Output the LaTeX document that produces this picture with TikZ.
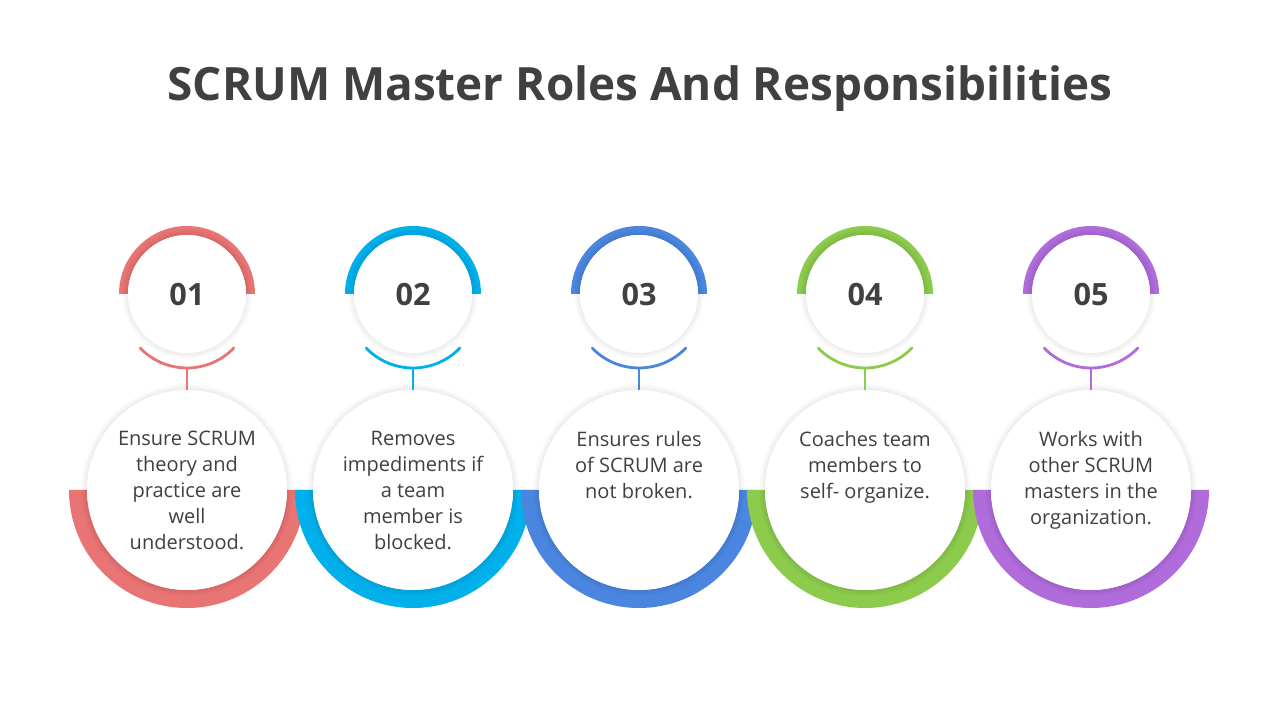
\documentclass[tikz,border=0pt]{standalone}
\usepackage{fontspec}
\setmainfont{Open Sans}
\definecolor{txt}{HTML}{404040}
\definecolor{cA}{HTML}{E87473}
\definecolor{cB}{HTML}{00B0EA}
\definecolor{cC}{HTML}{4A86E0}
\definecolor{cD}{HTML}{8CCB4C}
\definecolor{cE}{HTML}{B06CDB}
\tikzset{
  numtxt/.style={font=\fontsize{23}{26}\selectfont\bfseries, text=txt, inner sep=0},
  bodytxt/.style={font=\fontsize{15}{19.5}\selectfont, text=txt, align=center, inner sep=0, anchor=north},
  smallcirc/.style={circle, fill=white, minimum size=118*0.75pt, inner sep=0},
  bigcirc/.style={circle, fill=white, minimum size=200*0.75pt, inner sep=0},
  link/.style={line width=2.8pt*0.75, line cap=round}
}
\begin{document}
\begin{tikzpicture}[x=0.75pt,y=0.75pt]
\useasboundingbox (0,0) rectangle (1280,720);
\fill[white] (0,0) rectangle (1280,720);
\node[font=\fontsize{34.4}{40}\selectfont\bfseries, text=txt] (title) at (640,631) {SCRUM Master Roles And Responsibilities};
\foreach \i/\X/\col/\num/\body in {
  1/187/cA/01/{Ensure SCRUM\\theory and\\practice are\\well\\understood.},
  2/413/cB/02/{Removes\\impediments if\\a team\\member is\\blocked.},
  3/639/cC/03/{Ensures rules\\of SCRUM are\\not broken.},
  4/865/cD/04/{Coaches team\\members to\\self- organize.},
  5/1091/cE/05/{Works with\\other SCRUM\\masters in the\\organization.}}{
  % bottom ring
  \fill[\col] (\X-118,230) arc (180:360:118) -- (\X+100,230) arc (360:180:100) -- cycle;
  % top ring
  \fill[\col] (\X-68,426) arc (180:0:68) -- (\X+59,426) arc (0:180:59) -- cycle;
  % shadows
  \foreach \k in {1,...,6}{
    \fill[black,opacity=0.012] (\X,230) circle (100+\k);
    \fill[black,opacity=0.012] (\X,426) circle (59+\k);
  }
  \node[bigcirc] (c\i) at (\X,230) {};
  \node[smallcirc] (n\i) at (\X,426) {};
  \node[numtxt] (num\i) at (\X,425) {\num};
  % smile
  \draw[link,\col] ([shift={(-136:65)}]\X,417) arc (-136:-44:65);
  \coordinate (s\i) at (\X,352);
  \draw[link,\col,line cap=butt] (s\i) -- (c\i.north);
  \node[bodytxt] (t\i) at (\X,289) {\body};
}
\end{tikzpicture}
\end{document}
